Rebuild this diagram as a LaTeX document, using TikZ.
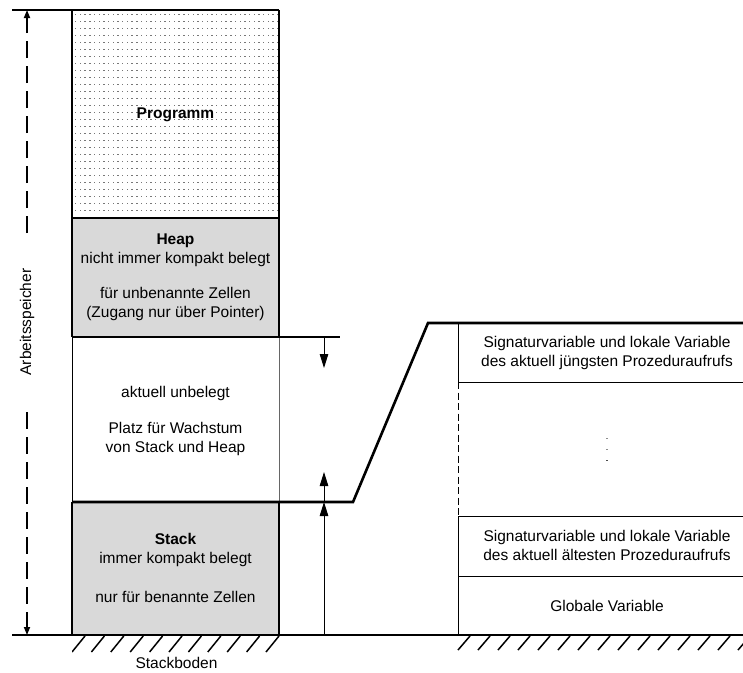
\documentclass[tikz,border=0pt]{standalone}
\usepackage{fontspec}
\setmainfont{Liberation Sans}
\usetikzlibrary{arrows.meta}
\definecolor{boxgray}{HTML}{D9D9D9}
\definecolor{dotgray}{HTML}{777777}
\begin{document}
\begin{tikzpicture}[x=1pt,y=-1pt,
  heavy/.style={line width=2.6pt},
  sidewall/.style={line width=2pt},
  hair/.style={line width=1pt},
  lbl/.style={font=\fontsize{15.5}{19.5}\selectfont, align=center, inner sep=0pt},
  growarrow/.style={line width=1pt, -{Triangle[length=14pt,width=8.5pt]}},
  spanarrow/.style={line width=1.6pt, dash pattern=on 17pt off 8pt, -{Triangle[length=8pt,width=6pt]}},
  hatchline/.style={line width=1.5pt}]
\useasboundingbox (0,0) rectangle (743,672);

% fills
\fill[boxgray] (72,218) rectangle (279,337);
\fill[boxgray] (72,502) rectangle (279,635);

% dotted program area
\begin{scope}
  \clip (73,11) rectangle (278,217);
  \foreach \i in {0,...,44}{
    \foreach \j in {0,...,29}{
      \fill[dotgray] (75+4.7*\i, 14+7*\j) rectangle ++(1.4,1.4);
    }
  }
\end{scope}

% hatching under stack
\begin{scope}
  \clip (72,634) rectangle (280,653);
  \foreach \k in {0,...,11}
    \draw[hatchline] (72+19.4*\k, 652) -- ++(13,-16);
\end{scope}
\begin{scope}
  \clip (457,634) rectangle (743,653);
  \foreach \k in {0,...,15}
    \draw[hatchline] (458+20*\k, 650) -- ++(12,-14);
\end{scope}

% coordinates
\coordinate (topL) at (12,10);
\coordinate (topR) at (279,10);
\coordinate (pBL) at (72,218);
\coordinate (pBR) at (279,218);
\coordinate (hBL) at (72,337);
\coordinate (hBR) at (279,337);
\coordinate (hExt) at (340,337);
\coordinate (sTL) at (72,502);
\coordinate (sTR) at (279,502);
\coordinate (kink1) at (353,502);
\coordinate (kink2) at (428,323);
\coordinate (farR) at (743,323);
\coordinate (gL) at (12,635);
\coordinate (gR) at (743,635);
\coordinate (sBL) at (72,635);
\coordinate (sBR) at (279,635);
\coordinate (pTL) at (72,10);

% left column borders
\draw[sidewall] (pTL) -- (hBL);
\draw[sidewall] (topR) -- (hBR);
\draw[hair] (hBL) -- (sTL);
\draw[hair, black!60] (hBR) -- (sTR);
\draw[sidewall] (sTL) -- (sBL);
\draw[sidewall] (sTR) -- (sBR);

% heavy horizontals
\draw[heavy] (topL) -- (topR);
\draw[heavy] (pBL) -- (pBR);
\draw[heavy] (hBL) -- (hExt);
\draw[heavy, line join=miter] (sTL) -- (kink1) -- (kink2) -- (farR);
\draw[heavy] (gL) -- (gR);

% right stack frame
\coordinate (r1) at (458,323);
\coordinate (r2) at (458,382);
\coordinate (r3) at (458,516);
\coordinate (r4) at (458,576);
\coordinate (r5) at (458,635);
\coordinate (q2) at (743,382);
\coordinate (q3) at (743,516);
\coordinate (q4) at (743,576);
\draw[hair] (r1) -- (r2);
\draw[hair, dash pattern=on 7pt off 3.5pt] (r2) -- (r3);
\draw[hair] (r3) -- (r5);
\draw[hair] (r2) -- (q2);
\draw[hair] (r3) -- (q3);
\draw[hair] (r4) -- (q4);

% ellipsis dots
\fill[black!45] (606.3,437.5) rectangle ++(1.6,1);
\fill[black!45] (606.3,448.5) rectangle ++(1.6,1);
\fill[black!70] (606.3,459.5) rectangle ++(1.6,1.2);

% growth arrows
\coordinate (a1s) at (324,337);
\coordinate (a1e) at (324,368);
\coordinate (a2s) at (324,502);
\coordinate (a2e) at (324,472);
\coordinate (a3s) at (324,635);
\coordinate (a3e) at (324,502);
\draw[growarrow] (a1s) -- (a1e);
\draw[growarrow] (a2s) -- (a2e);
\draw[growarrow] (a3s) -- (a3e);

% Arbeitsspeicher span
\node[lbl, rotate=90] (arb) at (27,322) {Arbeitsspeicher};
\coordinate (spTop) at (27,10);
\coordinate (spBot) at (27,635);
\coordinate (spA) at (27,233);
\coordinate (spB) at (27,412);
\draw[spanarrow] (spA) -- (spTop);
\draw[spanarrow] (spB) -- (spBot);

% texts
\node[lbl] (prog) at (175.5,115) {\textbf{Programm}};
\node[lbl] (heap1) at (175.5,250.5) {\textbf{Heap}\\nicht immer kompakt belegt};
\node[lbl] (heap2) at (175.5,304) {für unbenannte Zellen\\(Zugang nur über Pointer)};
\node[lbl] (free1) at (175.5,393.5) {aktuell unbelegt};
\node[lbl] (free2) at (175.5,439) {Platz für Wachstum\\von Stack und Heap};
\node[lbl] (stack1) at (175.5,550) {\textbf{Stack}\\immer kompakt belegt};
\node[lbl] (stack2) at (175.5,597) {nur für benannte Zellen};
\node[lbl] (boden) at (176.5,663) {Stackboden};
\node[lbl] (young) at (607,353) {Signaturvariable und lokale Variable\\des aktuell jüngsten Prozeduraufrufs};
\node[lbl] (old) at (607,545.5) {Signaturvariable und lokale Variable\\des aktuell ältesten Prozeduraufrufs};
\node[lbl] (glob) at (607,605.5) {Globale Variable};
\end{tikzpicture}
\end{document}
